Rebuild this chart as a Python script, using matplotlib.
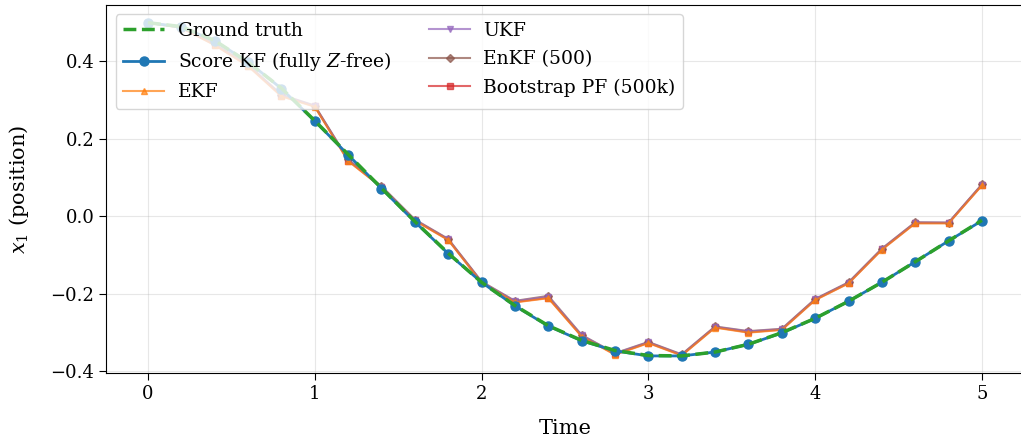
import numpy as np
import matplotlib
matplotlib.use("Agg")
import matplotlib.pyplot as plt

plt.rcParams['font.family'] = ['DejaVu Serif']
plt.rcParams['mathtext.fontset'] = 'dejavuserif'

# time grid, 0 .. 5 every 0.2
t = np.round(np.arange(26) * 0.2, 1)

truth = [0.500, 0.490, 0.454, 0.398, 0.331, 0.247, 0.160, 0.073, -0.013, -0.095,
         -0.170, -0.230, -0.282, -0.320, -0.346, -0.359, -0.360, -0.350, -0.330, -0.300,
         -0.263, -0.219, -0.170, -0.117, -0.063, -0.010]
score_kf = [0.500, 0.489, 0.453, 0.399, 0.330, 0.246, 0.159, 0.072, -0.014, -0.096,
            -0.170, -0.231, -0.283, -0.321, -0.347, -0.360, -0.360, -0.350, -0.330, -0.301,
            -0.263, -0.219, -0.170, -0.117, -0.063, -0.011]
ekf = [0.500, 0.487, 0.442, 0.388, 0.310, 0.283, 0.143, 0.075, -0.011, -0.061,
       -0.171, -0.222, -0.211, -0.310, -0.357, -0.327, -0.359, -0.287, -0.300, -0.293,
       -0.216, -0.173, -0.086, -0.018, -0.018, 0.080]
ukf = [0.500, 0.488, 0.444, 0.390, 0.313, 0.285, 0.146, 0.077, -0.009, -0.059,
       -0.169, -0.219, -0.207, -0.307, -0.354, -0.325, -0.357, -0.285, -0.297, -0.291,
       -0.214, -0.171, -0.084, -0.016, -0.016, 0.082]
enkf = [0.500, 0.489, 0.445, 0.392, 0.314, 0.286, 0.147, 0.078, -0.008, -0.058,
        -0.168, -0.218, -0.205, -0.306, -0.353, -0.324, -0.356, -0.284, -0.296, -0.290,
        -0.213, -0.170, -0.083, -0.015, -0.016, 0.083]
pf = [0.500, 0.487, 0.443, 0.389, 0.311, 0.284, 0.144, 0.076, -0.010, -0.060,
      -0.170, -0.221, -0.210, -0.309, -0.356, -0.326, -0.358, -0.286, -0.299, -0.292,
      -0.215, -0.172, -0.085, -0.017, -0.017, 0.081]

fig = plt.figure(figsize=(10.21, 4.44), dpi=100)
ax = fig.add_axes([0.1041, 0.16, 0.8985, 0.829])

# baselines first so Score KF / truth sit on top
h_pf, = ax.plot(t, pf, color='tab:red', marker='s', ms=5, lw=1.5, alpha=0.7,
                label='Bootstrap PF (500k)')
h_enkf, = ax.plot(t, enkf, color='tab:brown', marker='D', ms=4, lw=1.5, alpha=0.7,
                  label='EnKF (500)')
h_ukf, = ax.plot(t, ukf, color='tab:purple', marker='v', ms=5, lw=1.5, alpha=0.7,
                 label='UKF')
h_ekf, = ax.plot(t, ekf, color='tab:orange', marker='^', ms=5, lw=1.5, alpha=0.7,
                 label='EKF')
h_skf, = ax.plot(t, score_kf, color='tab:blue', marker='o', ms=6.5, lw=2,
                 label='Score KF (fully $Z$-free)')
h_gt, = ax.plot(t, truth, color='tab:green', ls='--', lw=2.5,
                label='Ground truth')

ax.set_xlim(-0.25, 5.25)
ax.set_ylim(-0.404, 0.546)
ax.set_yticks([-0.4, -0.2, 0.0, 0.2, 0.4])
ax.set_xlabel('Time', fontsize=15, labelpad=12)
ax.set_ylabel('$x_1$ (position)', fontsize=15, labelpad=14)
ax.tick_params(labelsize=13, length=5)
ax.grid(True, alpha=0.3)
ax.spines['right'].set_visible(False)

ax.legend(handles=[h_gt, h_skf, h_ekf, h_ukf, h_enkf, h_pf], loc='upper left',
          ncol=2, fontsize=13.5, framealpha=0.8, handlelength=2.2,
          handletextpad=0.7, borderaxespad=0.5, labelspacing=0.55,
          columnspacing=2.0)

fig.savefig('out.png', dpi=100)
